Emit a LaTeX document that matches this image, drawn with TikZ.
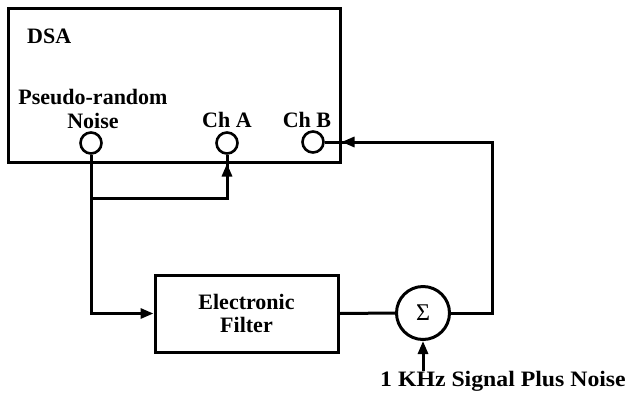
\documentclass[tikz,border=0pt]{standalone}
\usepackage{fontspec}
\setmainfont{Liberation Serif}
\usetikzlibrary{arrows.meta}
\begin{document}
\begin{tikzpicture}[x=1pt,y=-1pt,
  line/.style={line width=3pt},
  arr/.style={line width=3pt,-{Triangle[length=13pt,width=10pt]}},
  port/.style={circle,draw,line width=2.6pt,minimum size=21pt,inner sep=0pt},
  lbl/.style={font=\fontsize{22}{24}\selectfont\bfseries,inner sep=0pt},
  box/.style={draw,line width=3pt,inner sep=0pt}]
\useasboundingbox (0,0) rectangle (629,400);
\node[box,minimum width=332pt,minimum height=154pt] (dsa) at (174,85) {};
\node[box,minimum width=183pt,minimum height=77pt,align=center,lbl,font=\fontsize{22}{23}\selectfont\bfseries] (filter) at (246.5,313.5) {Electronic\\Filter};
\node[lbl,anchor=west] (dsalbl) at (27,36) {DSA};
\node[lbl,align=center] (prn) at (93,109) {Pseudo-random\\Noise};
\node[lbl] (chAl) at (227,120) {Ch A};
\node[lbl] (chBl) at (307,120) {Ch B};
\node[port] (noise) at (91,143) {};
\node[port] (chA) at (227,143) {};
\node[port] (chB) at (313,142) {};
\node[circle,draw,line width=3pt,minimum size=53pt,inner sep=0pt,font=\fontsize{24}{26}\selectfont] (sum) at (423,313) {Σ};
\node[lbl,xscale=1.08] (sig) at (503,381) {1 KHz Signal Plus Noise};
\coordinate (j) at (91,198);
\coordinate (r) at (492,313);
% noise to filter
\draw[arr] (noise.south) |- (filter.west);
% branch to Ch A
\draw[line] (j) -| (chA.south);
\draw[arr] (j -| chA.south) -- (chA.south |- dsa.south);
% filter to sum
\draw[line] (filter.east) -- (sum.west);
% sum to Ch B
\draw[line] (sum.east) -- (r) |- (chB.east);
\draw[arr] (r |- chB.east) -- (dsa.east |- chB.east);
% signal input
\draw[arr] (sum.south |- sig.north) -- (sum.south);
\end{tikzpicture}
\end{document}
